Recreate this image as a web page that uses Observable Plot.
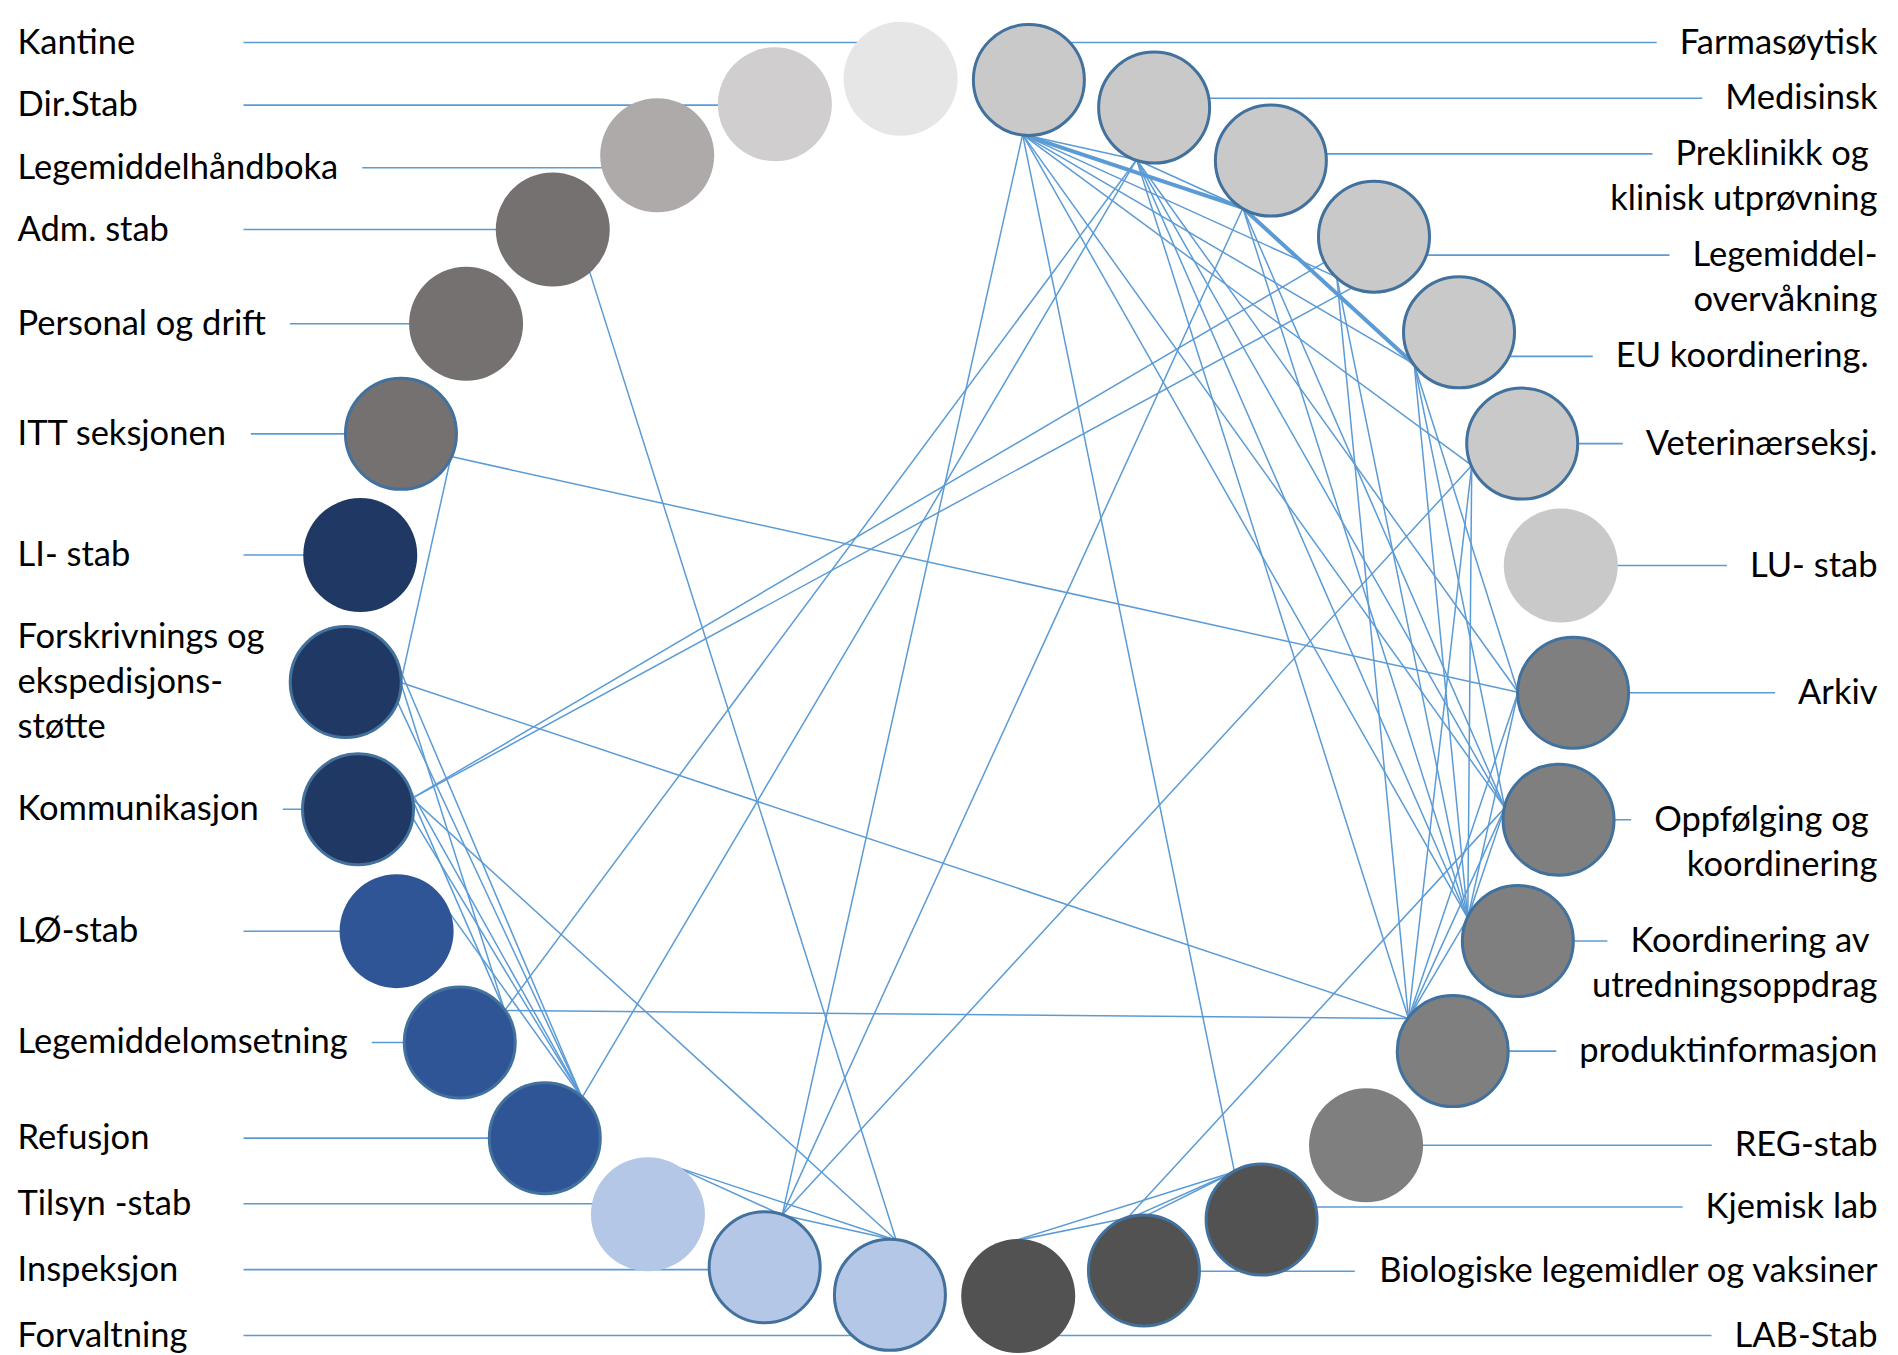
<!DOCTYPE html>
<html>
<head>
<meta charset="utf-8">
<script src="https://cdn.jsdelivr.net/npm/d3@7"></script>
<script src="https://cdn.jsdelivr.net/npm/@observablehq/plot@0.6"></script>
<style>
  html, body { margin: 0; padding: 0; background: #ffffff; }
  #chart { width: 1898px; height: 1355px; }
</style>
</head>
<body>
<div id="chart"></div>
<script>
// ---------------- DATA ----------------
// Units, in ring order (clockwise from the top, starting right of 12 o'clock)
const ids = ["farm","med","prek","lov","eu","vet","lustab","arkiv","oppf","koord","prod","regstab","kjem","bio","labstab",
             "forv","insp","tilsyn","ref","legoms","lostab","komm","forsk","listab","itt","pers","adm","lmh","dir","kantine"];
const labels = ["Farmasøytisk","Medisinsk","Preklinikk og\u00a0\nklinisk utprøvning","Legemiddel-\novervåkning","EU koordinering.\u00a0",
  "Veterinærseksj.","LU- stab","Arkiv","Oppfølging og\u00a0\nkoordinering","Koordinering av\u00a0\nutredningsoppdrag","produktinformasjon",
  "REG-stab","Kjemisk lab","Biologiske legemidler og vaksiner","LAB-Stab",
  "Forvaltning","Inspeksjon","Tilsyn -stab","Refusjon","Legemiddelomsetning","LØ-stab","Kommunikasjon",
  "Forskrivnings og\nekspedisjons-\nstøtte","LI- stab","ITT seksjonen","Personal og drift","Adm. stab","Legemiddelhåndboka","Dir.Stab","Kantine"];
// Division each unit belongs to
const divisions = ["LU","LU","LU","LU","LU","LU","LU","REG","REG","REG","REG","REG","LAB","LAB","LAB",
  "TILSYN","TILSYN","TILSYN","LØ","LØ","LØ","LI","LI","LI","ADM","ADM","ADM","LMH","DIR","KANTINE"];
// Units that are part of the mapped network (drawn with an outline)
const mapped = [1,1,1,1,1,1,0,1,1,1,1,0,1,1,0, 1,1,0,1,1,0,1,1,0,1,0,0,0,0,0];

// Collaboration links (from, to, strength)
const edgeFrom = ["farm","farm","prek","farm","farm","farm","farm","farm","farm","farm",
  "med","med","med","med","med","med","med","prek","prek","prek",
  "komm","komm","lov","lov","eu","eu","eu","vet","vet","vet",
  "arkiv","arkiv","arkiv","oppf","oppf","oppf","koord","prod","prod",
  "kjem","kjem","kjem","labstab","forv","forv","forv","forv","insp",
  "ref","ref","ref","ref","ref","legoms","legoms","forsk"];
const edgeTo = ["med","prek","eu","insp","kjem","koord","lov","eu","vet","oppf",
  "prek","legoms","ref","koord","oppf","arkiv","prod","insp","koord","oppf",
  "lov","lov","prod","koord","arkiv","oppf","koord","insp","koord","prod",
  "itt","prod","koord","bio","prod","koord","prod","forsk","legoms",
  "labstab","bio","bio","bio","adm","komm","insp","tilsyn","tilsyn",
  "forsk","forsk","komm","komm","lostab","forsk","komm","itt"];
const edgeWeight = [1,2,2,1,1,1,1,1,1,1,
  1,1,1,1,1,1,1,1,1,1,
  1,1,1,1,1,1,1,1,1,1,
  1,1,1,1,1,1,1,1,1,
  1,1,1,1,1,1,1,1,1,
  1,1,1,1,1,1,1,1];

const divisionOrder = ["LU","REG","LAB","TILSYN","LØ","LI","ADM","LMH","DIR","KANTINE"];

// ---------------- LAYOUT (computed) ----------------
const W = 1898, H = 1355;
const ring = {cx: 958.9, cy: 686.9, rx: 613.7, ry: 611.4, start: 6.5};
const n = ids.length, step = 360 / n;
const FONT = 34.5, FAMILY = "Lato", LINE = 45, GAP = 10, TOP = 42, BOTTOM = 1335;

const canvas = document.createElement("canvas");
const ctx = canvas.getContext("2d");
ctx.font = `${FONT}px ${FAMILY}`;
const measure = s => ctx.measureText(s).width;

const nodeData = ids.map((id, i) => {
  const a = (ring.start + step * i) * Math.PI / 180;
  return {
    id, i, label: labels[i], division: divisions[i], mapped: !!mapped[i],
    x: ring.cx + ring.rx * Math.sin(a),
    y: ring.cy - ring.ry * Math.cos(a),
    side: i < n / 2 ? "right" : "left",
    lines: labels[i].split("\n")
  };
});
const byId = new Map(nodeData.map(d => [d.id, d]));

// label placement: keep labels at their unit's height, pushed apart where crowded;
// the highest and lowest crowded groups are spread out to the margins
function placeLabels(items) {
  items.sort((a, b) => a.want - b.want);
  const clusters = [];
  for (const it of items) {
    clusters.push({items: [it], offs: [0], h: it.lines.length * LINE, m: it.want});
    while (clusters.length > 1) {
      const b = clusters[clusters.length - 1], a = clusters[clusters.length - 2];
      if (b.m - LINE / 2 < a.m - LINE / 2 + a.h + GAP) {
        const shift = a.h + GAP;
        const its = a.items.concat(b.items);
        const offs = a.offs.concat(b.offs.map(o => o + shift));
        const m = d3.mean(its, (d, k) => d.want - offs[k]);
        clusters.splice(-2, 2, {items: its, offs, h: shift + b.h, m});
      } else break;
    }
  }
  for (const c of clusters) c.items.forEach((d, k) => d.ly = c.m + c.offs[k]);
  const last = clusters[clusters.length - 1];
  if (last.items.length > 1) {
    const k = last.items.length, first = last.m, span = last.offs[k - 1];
    if (first + span < BOTTOM) last.items.forEach((d, j) => d.ly = first + (last.offs[j] / span) * (BOTTOM - first));
  }
  const top = clusters[0];
  if (top.items.length > 1 && top !== last) {
    const k = top.items.length, span = top.offs[k - 1], end = top.m + span;
    if (top.m > TOP) top.items.forEach((d, j) => d.ly = TOP + (top.offs[j] / span) * (end - TOP));
  }
}
for (const d of nodeData) d.want = d.lines.length > 2 ? d.y - LINE : d.y;
placeLabels(nodeData.filter(d => d.side === "right"));
placeLabels(nodeData.filter(d => d.side === "left"));

const LEFT_X = 17, RIGHT_X = 1877, LEAD_MIN = 243;
const textData = [];
const leaderData = [];
for (const d of nodeData) {
  d.lines.forEach((t, k) => textData.push({side: d.side, text: t, x: d.side === "left" ? LEFT_X : RIGHT_X, y: d.ly + k * LINE}));
  if (d.lines.length > 2) continue;
  const w = measure(d.lines[0]);
  if (d.side === "left") leaderData.push({x1: Math.max(LEAD_MIN, LEFT_X + w + 24), x2: d.x, y1: d.ly, y2: d.ly});
  else leaderData.push({x1: d.x, x2: RIGHT_X - w - 23, y1: d.ly, y2: d.ly});
}

// link end points: on each circle, on the side facing the middle of the ring;
// repeated links between the same pair fan out at their target end
const pairCount = new Map(), pairSeen = new Map();
const key = (a, b) => [a, b].sort().join("|");
edgeFrom.forEach((f, i) => { const k = key(f, edgeTo[i]); pairCount.set(k, (pairCount.get(k) || 0) + 1); });
function port(node, shiftDeg) {
  const a = Math.atan2(ring.cy - node.y, ring.cx - node.x) + shiftDeg * Math.PI / 180;
  const r = 55;
  return [node.x + r * Math.cos(a), node.y + r * Math.sin(a)];
}
const edgeData = edgeFrom.map((f, i) => {
  const s = byId.get(f), t = byId.get(edgeTo[i]);
  const k = key(f, edgeTo[i]);
  const c = pairCount.get(k), j = pairSeen.get(k) || 0;
  pairSeen.set(k, j + 1);
  const sh = (j - (c - 1) / 2) * 40;
  const [x1, y1] = port(s, 0), [x2, y2] = port(t, sh);
  return {x1, y1, x2, y2, w: edgeWeight[i]};
});

const LINK = "#5B9BD5";
const chart = Plot.plot({
  width: W, height: H, margin: 0,
  x: {domain: [0, W], range: [0, W], axis: null},
  y: {domain: [0, H], range: [0, H], axis: null},
  color: {domain: divisionOrder, range: ["#C9C9C9","#7F7F7F","#525252","#B4C7E7","#2F5597","#203864","#767171","#AEAAAA","#D0CECE","#E7E6E6"]},
  style: {background: "#ffffff", overflow: "visible"},
  marks: [
    Plot.link(leaderData, {x1: "x1", y1: "y1", x2: "x2", y2: "y2", stroke: LINK, strokeWidth: 1.6}),
    Plot.link(edgeData, {x1: "x1", y1: "y1", x2: "x2", y2: "y2", stroke: LINK, strokeWidth: d => d.w > 1 ? 4 : 1.5}),
    Plot.dot(nodeData.filter(d => !d.mapped), {x: "x", y: "y", r: 57, fill: "division", stroke: "none"}),
    Plot.dot(nodeData.filter(d => d.mapped), {x: "x", y: "y", r: 55.5, fill: "division", stroke: "#41719C", strokeWidth: 3}),
    Plot.text(textData.filter(d => d.side === "left"), {x: "x", y: "y", text: "text", textAnchor: "start", fontSize: FONT, fontFamily: FAMILY, fill: "#000000"}),
    Plot.text(textData.filter(d => d.side === "right"), {x: "x", y: "y", text: "text", textAnchor: "end", fontSize: FONT, fontFamily: FAMILY, fill: "#000000"})
  ]
});
document.getElementById("chart").appendChild(chart);
</script>
</body>
</html>
